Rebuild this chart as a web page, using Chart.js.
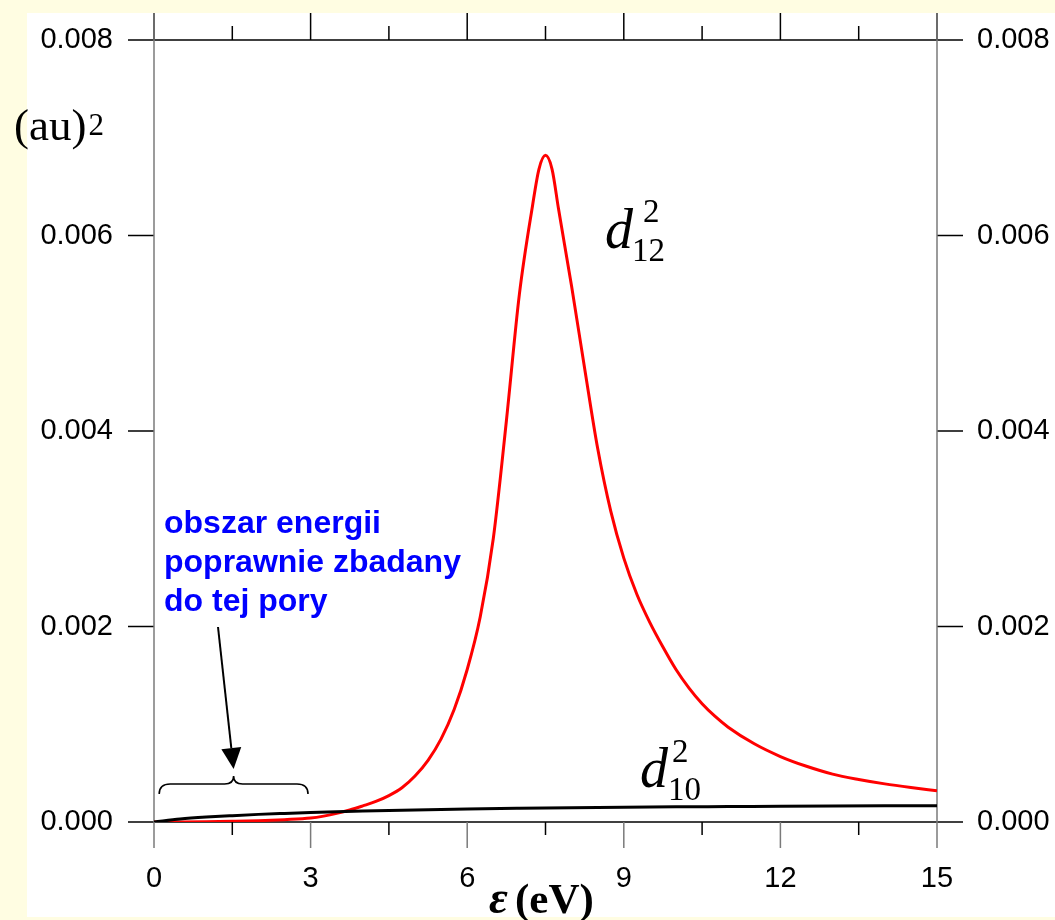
<!DOCTYPE html>
<html lang="pl">
<head>
  <meta charset="UTF-8" />
  <title>d12 / d10 vs energia</title>
  <script src="https://cdn.jsdelivr.net/npm/chart.js"></script>
  <style>
    html, body {
      margin: 0;
      padding: 0;
      background: #fffde2;
    }
    #wrap {
      position: relative;
      width: 1055px;
      height: 920px;
    }
    #panel {
      position: absolute;
      left: 27px;
      top: 13px;
      width: 1028px;
      height: 904px;
      background: #fff;
    }
    canvas {
      position: absolute;
      left: 0;
      top: 0;
    }
  </style>
</head>
<body>
  <div id="wrap">
    <div id="panel"></div>
    <canvas id="chart" width="1055" height="920"></canvas>
  </div>

  <script>
    // d12^2 (red curve), energy in eV
    const energyRed = [0, 0.5, 1, 1.5, 2, 2.5, 3, 3.25, 3.5, 3.75, 4, 4.25, 4.5, 4.75, 5, 5.25, 5.5, 5.75,
                       6, 6.25, 6.5, 6.75, 7, 7.25, 7.375, 7.5, 7.625, 7.75, 8, 8.25, 8.5, 8.75, 9, 9.25,
                       9.5, 9.75, 10, 10.25, 10.5, 10.75, 11, 11.5, 12, 12.5, 13, 13.5, 14, 14.5, 15];
    const d12 = [0, 0.000001, 0.000003, 0.000007, 0.000013, 0.000024, 0.00004, 0.00006, 0.000088, 0.000123,
                 0.000165, 0.00021, 0.00027, 0.00035, 0.00047, 0.00063, 0.00085, 0.00115,
                 0.00156, 0.0021, 0.0029, 0.0041, 0.0054, 0.0063, 0.00668, 0.00682, 0.00668, 0.00627,
                 0.00548, 0.00464, 0.00382, 0.00318, 0.0027, 0.00233,
                 0.00204, 0.00179, 0.00156, 0.00137, 0.00121, 0.00108, 0.00097, 0.0008, 0.00067,
                 0.00057, 0.00049, 0.000435, 0.00039, 0.000353, 0.00032];

    // d10^2 (black curve)
    const energyBlack = [0, 0.5, 1, 1.5, 2, 2.5, 3, 4, 5, 6, 7, 8, 9, 10, 11, 12, 13, 14, 15];
    const d10 = [0, 0.00003, 0.00005, 0.000065, 0.000078, 0.000088, 0.000097, 0.000112, 0.000124, 0.000133,
                 0.00014, 0.000146, 0.000151, 0.000155, 0.000158, 0.000161, 0.000163, 0.000165, 0.000167];

    const xMajorTicks = [0, 3, 6, 9, 12, 15];
    const xMinorTicks = [1.5, 4.5, 7.5, 10.5, 13.5];
    const yTicks = [0, 0.002, 0.004, 0.006, 0.008];

    const SANS = '"Liberation Sans", Arial, Helvetica, sans-serif';
    const SERIF = '"Liberation Serif", "Times New Roman", Times, serif';

    // axis frame and tick marks, drawn from the scales
    const frame = {
      id: 'frame',
      beforeDatasetsDraw(chart) {
        const { ctx, scales: { x, y } } = chart;
        const left = x.getPixelForValue(0), right = x.getPixelForValue(15);
        const top = y.getPixelForValue(0.008), bottom = y.getPixelForValue(0);
        ctx.save();
        ctx.lineWidth = 1.5;

        // horizontal ticks (0.000 and 0.008 run across)
        ctx.strokeStyle = '#000';
        yTicks.forEach(v => {
          const py = y.getPixelForValue(v);
          ctx.beginPath();
          if (v === 0 || v === 0.008) {
            ctx.moveTo(left - 26, py); ctx.lineTo(right + 26, py);
          } else {
            ctx.moveTo(left - 26, py); ctx.lineTo(left, py);
            ctx.moveTo(right, py); ctx.lineTo(right + 26, py);
          }
          ctx.stroke();
        });

        // top ticks
        xMajorTicks.forEach(v => {
          const px = x.getPixelForValue(v);
          ctx.beginPath(); ctx.moveTo(px, top); ctx.lineTo(px, top - 27); ctx.stroke();
        });
        xMinorTicks.forEach(v => {
          const px = x.getPixelForValue(v);
          ctx.beginPath(); ctx.moveTo(px, top); ctx.lineTo(px, top - 14); ctx.stroke();
          ctx.beginPath(); ctx.moveTo(px, bottom); ctx.lineTo(px, bottom + 13); ctx.stroke();
        });

        // grey verticals: side axes + bottom major ticks
        ctx.strokeStyle = '#7a7a7a';
        [0, 15].forEach(v => {
          const px = x.getPixelForValue(v);
          ctx.beginPath(); ctx.moveTo(px, top - 27); ctx.lineTo(px, bottom + 26); ctx.stroke();
        });
        xMajorTicks.slice(1, -1).forEach(v => {
          const px = x.getPixelForValue(v);
          ctx.beginPath(); ctx.moveTo(px, bottom); ctx.lineTo(px, bottom + 26); ctx.stroke();
        });
        ctx.restore();
      }
    };

    // labels, arrow and brace
    const notes = {
      id: 'notes',
      afterDraw(chart) {
        const { ctx, scales: { x } } = chart;
        ctx.save();
        ctx.fillStyle = '#000';
        ctx.textBaseline = 'alphabetic';
        ctx.textAlign = 'left';

        // (au)^2
        ctx.font = '45px ' + SERIF;
        ctx.fillText('(au)', 14, 140);
        let w = ctx.measureText('(au)').width;
        ctx.font = '31px ' + SERIF;
        ctx.fillText('2', 14 + w + 2, 135);

        // d12^2
        ctx.font = 'italic 56px ' + SERIF;
        ctx.fillText('d', 605, 248);
        ctx.font = '33px ' + SERIF;
        ctx.fillText('12', 632, 261);
        ctx.fillText('2', 643, 222);

        // d10^2
        ctx.font = 'italic 56px ' + SERIF;
        ctx.fillText('d', 640, 787);
        ctx.font = '33px ' + SERIF;
        ctx.fillText('10', 668, 800);
        ctx.fillText('2', 672, 762);

        // axis title
        ctx.font = 'bold italic 46px ' + SERIF;
        ctx.fillText('\u03b5', 489, 913);
        ctx.font = 'bold 43px ' + SERIF;
        ctx.fillText('(eV)', 515, 913);

        // blue note
        ctx.fillStyle = '#0000ff';
        ctx.font = 'bold 32px ' + SANS;
        ctx.fillText('obszar energii', 164, 533);
        ctx.fillText('poprawnie zbadany', 164, 572);
        ctx.fillText('do tej pory', 164, 611);

        // brace over 0 - 3 eV
        const xl = x.getPixelForValue(0.1), xr = x.getPixelForValue(2.95);
        const xm = (xl + xr) / 2;
        ctx.strokeStyle = '#000';
        ctx.lineWidth = 1.6;
        ctx.beginPath();
        ctx.moveTo(xl, 794);
        ctx.quadraticCurveTo(xl, 784, xl + 11, 784);
        ctx.lineTo(xm - 9, 784);
        ctx.quadraticCurveTo(xm, 784, xm, 776);
        ctx.quadraticCurveTo(xm, 784, xm + 9, 784);
        ctx.lineTo(xr - 11, 784);
        ctx.quadraticCurveTo(xr, 784, xr, 794);
        ctx.stroke();

        // arrow
        const x0 = 218, y0 = 627, x1 = xm, y1 = 769;
        const ang = Math.atan2(y1 - y0, x1 - x0);
        const hl = 21, hw = 10;
        const bx = x1 - hl * Math.cos(ang), by = y1 - hl * Math.sin(ang);
        ctx.lineWidth = 2;
        ctx.beginPath(); ctx.moveTo(x0, y0); ctx.lineTo(bx, by); ctx.stroke();
        ctx.fillStyle = '#000';
        ctx.beginPath();
        ctx.moveTo(x1, y1);
        ctx.lineTo(bx + hw * Math.sin(ang), by - hw * Math.cos(ang));
        ctx.lineTo(bx - hw * Math.sin(ang), by + hw * Math.cos(ang));
        ctx.closePath();
        ctx.fill();
        ctx.restore();
      }
    };

    const yAxis = (position, width, padding) => ({
      type: 'linear',
      position: position,
      min: 0,
      max: 0.008,
      ticks: {
        stepSize: 0.002,
        padding: padding,
        color: '#000',
        font: { family: SANS, size: 29 },
        callback: v => Number(v).toFixed(3)
      },
      grid: { drawOnChartArea: false, tickLength: 26, color: 'rgba(0,0,0,0)' },
      border: { display: false },
      afterFit: s => { s.width = width; }
    });

    new Chart(document.getElementById('chart'), {
      type: 'line',
      data: {
        datasets: [
          {
            label: 'd10^2',
            data: energyBlack.map((e, i) => ({ x: e, y: d10[i] })),
            borderColor: '#000',
            borderWidth: 3,
            cubicInterpolationMode: 'monotone',
            pointRadius: 0
          },
          {
            label: 'd12^2',
            data: energyRed.map((e, i) => ({ x: e, y: d12[i] })),
            borderColor: '#ff0000',
            borderWidth: 3,
            cubicInterpolationMode: 'monotone',
            pointRadius: 0
          }
        ]
      },
      options: {
        responsive: false,
        animation: false,
        events: [],
        layout: { padding: { top: 40, left: 0, right: 0, bottom: 0 } },
        plugins: { legend: { display: false }, tooltip: { enabled: false } },
        scales: {
          x: {
            type: 'linear',
            position: 'bottom',
            min: 0,
            max: 15,
            ticks: {
              stepSize: 3,
              padding: 14,
              maxRotation: 0,
              autoSkip: false,
              color: '#000',
              font: { family: SANS, size: 29 }
            },
            grid: { drawOnChartArea: false, tickLength: 26, color: 'rgba(0,0,0,0)' },
            border: { display: false },
            afterFit: s => { s.height = 98; }
          },
          y: yAxis('left', 154, 15),
          y2: yAxis('right', 118, 14)
        }
      },
      plugins: [frame, notes]
    });
  </script>
</body>
</html>
